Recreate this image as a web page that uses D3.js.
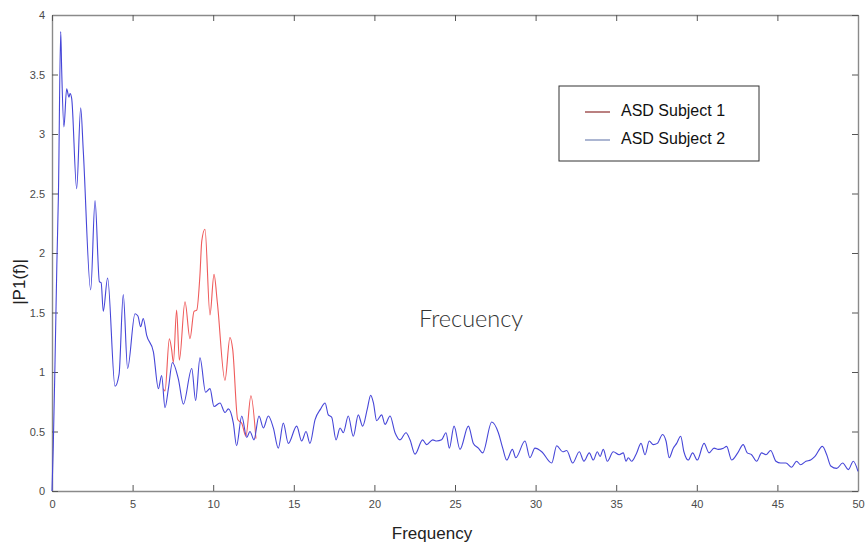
<!DOCTYPE html>
<html>
<head>
<meta charset="utf-8">
<title>ASD spectrum</title>
<style>
body {
    margin: 0px;
    overflow: hidden;
    background: #fff;
}
</style>
<script src="https://cdnjs.cloudflare.com/ajax/libs/d3/7.8.5/d3.min.js"></script>
</head>
<body>
<div id="chart"></div>
<script>

// frequency (Hz) and |P1(f)|
var blueFreq = [0, 0.08, 0.19, 0.3, 0.4, 0.54, 0.6, 0.74, 0.91, 1.05, 1.12, 1.22, 1.53, 1.78, 1.94, 2.4, 2.67, 2.94, 3.05, 3.18, 3.45,
    3.91, 4.16, 4.42, 4.69, 5.15, 5.33, 5.5, 5.66, 5.87, 6.29, 6.6, 6.8, 7.01, 7.22, 7.47, 7.84, 8.15, 8.67, 8.91, 9.18, 9.53,
    9.8, 10.05, 10.42, 10.73, 10.94, 11.25, 11.45, 11.77, 12.08, 12.28, 12.53, 12.84, 13.11, 13.42, 13.73, 14.04, 14.35, 14.66,
    15.18, 15.49, 15.76, 16.0, 16.32, 16.67, 16.94, 17.14, 17.35, 17.62, 17.87, 18.07, 18.38, 18.69, 19.0, 19.27, 19.56, 19.77,
    19.94, 20.14, 20.45, 20.66, 20.97, 21.28, 21.59, 21.96, 22.21, 22.52, 22.99, 23.24, 23.62, 23.86, 24.17, 24.44, 24.65, 24.94,
    25.31, 25.83, 26.14, 26.45, 26.72, 27.28, 27.69, 27.96, 28.21, 28.56, 28.77, 29.34, 29.65, 29.96, 30.38, 31.0, 31.31, 31.68,
    31.93, 32.3, 32.71, 33.0, 33.33, 33.58, 33.83, 34.0, 34.2, 34.45, 34.82, 35.19, 35.44, 35.61, 35.75, 35.96, 36.27, 36.54,
    36.79, 37.05, 37.3, 37.55, 37.88, 38.09, 38.29, 38.54, 38.75, 39.0, 39.2, 39.47, 39.74, 40.03, 40.45, 40.76, 41.07, 41.33,
    41.65, 41.85, 42.16, 42.54, 42.88, 43.13, 43.4, 43.71, 44.02, 44.29, 44.58, 44.91, 45.2, 45.53, 45.88, 46.19, 46.44, 46.77,
    47.06, 47.33, 47.79, 48.06, 48.31, 48.68, 49.05, 49.4, 49.71, 50];
var blueVal = [0, 0.38, 1.1, 1.9, 2.5, 3.86, 3.54, 3.06, 3.38, 3.31, 3.34, 3.3, 2.54, 3.22, 2.86, 1.69, 2.44, 1.76, 1.75, 1.51, 1.79,
    0.88, 0.98, 1.65, 1.03, 1.49, 1.47, 1.38, 1.45, 1.31, 1.17, 0.86, 0.97, 0.7, 0.86, 1.08, 0.94, 0.73, 1.03, 0.76, 1.12, 0.83,
    0.86, 0.71, 0.74, 0.66, 0.69, 0.57, 0.38, 0.63, 0.45, 0.5, 0.43, 0.63, 0.53, 0.63, 0.53, 0.36, 0.57, 0.4,
    0.545, 0.42, 0.5, 0.4, 0.6, 0.69, 0.74, 0.64, 0.62, 0.43, 0.53, 0.49, 0.63, 0.46, 0.64, 0.545, 0.69, 0.805,
    0.74, 0.59, 0.64, 0.56, 0.63, 0.49, 0.43, 0.49, 0.43, 0.31, 0.43, 0.39, 0.43, 0.42, 0.43, 0.49, 0.36, 0.545,
    0.35, 0.545, 0.4, 0.36, 0.32, 0.58, 0.49, 0.36, 0.26, 0.35, 0.28, 0.42, 0.28, 0.36, 0.33, 0.235, 0.38, 0.33,
    0.34, 0.235, 0.33, 0.25, 0.32, 0.26, 0.33, 0.29, 0.35, 0.25, 0.33, 0.305, 0.32, 0.25, 0.28, 0.25, 0.32, 0.4,
    0.305, 0.42, 0.39, 0.4, 0.475, 0.42, 0.28, 0.36, 0.4, 0.46, 0.33, 0.26, 0.32, 0.26, 0.4, 0.32, 0.36, 0.35,
    0.36, 0.375, 0.26, 0.32, 0.39, 0.32, 0.305, 0.25, 0.32, 0.305, 0.34, 0.25, 0.235, 0.235, 0.2, 0.25, 0.22, 0.25,
    0.26, 0.29, 0.375, 0.305, 0.21, 0.19, 0.235, 0.18, 0.25, 0.165];

var redFreq = [6.91, 7.01, 7.28, 7.42, 7.53, 7.73, 7.9, 8.25, 8.56, 8.81, 8.98, 9.18, 9.29, 9.49, 9.8, 10.05, 10.26,
    10.73, 11.04, 11.21, 11.52, 11.77, 12.03, 12.34, 12.65];
var redVal = [0.86, 0.84, 1.28, 1.19, 1.08, 1.52, 1.1, 1.59, 1.28, 1.51, 1.52, 1.82, 2.1, 2.2, 1.48, 1.82, 1.58,
    0.93, 1.29, 1.19, 0.6, 0.57, 0.46, 0.8, 0.44];

var xTicks = [0, 5, 10, 15, 20, 25, 30, 35, 40, 45, 50];
var yTicks = [0, 0.5, 1, 1.5, 2, 2.5, 3, 3.5, 4];
var seriesNames = ["ASD Subject 1", "ASD Subject 2"];

var width = 865, height = 544;
var padLeft = 52, padRight = 858, padTop = 15, padBottom = 491;

var svg = d3.select("#chart").append("svg")
    .attr("width", width)
    .attr("height", height)
    .style("font-family", "Liberation Sans, Arial, sans-serif");

var x = d3.scaleLinear().domain([0, 50]).range([padLeft, padRight]);
var y = d3.scaleLinear().domain([0, 4]).range([padBottom, padTop]);
var fmt = d3.format("~g");

function styleAxis(g) {
    g.select(".domain").attr("stroke", "#8a8a8a").attr("stroke-width", 1.4);
    g.selectAll(".tick line").attr("stroke", "#555").attr("stroke-width", 1);
    g.selectAll(".tick text").attr("fill", "#4a4a4a").style("font-size", "11px");
}

svg.append("g")
    .attr("transform", "translate(0," + padBottom + ")")
    .call(d3.axisBottom(x).tickValues(xTicks).tickFormat(fmt).tickSizeInner(-6).tickSizeOuter(0).tickPadding(9))
    .call(styleAxis);
svg.append("g")
    .attr("transform", "translate(" + padLeft + ",0)")
    .call(d3.axisLeft(y).tickValues(yTicks).tickFormat(fmt).tickSizeInner(-6).tickSizeOuter(0).tickPadding(7))
    .call(styleAxis);
svg.append("g")
    .attr("transform", "translate(0," + padTop + ")")
    .call(d3.axisTop(x).tickValues(xTicks).tickSizeInner(-6).tickSizeOuter(0).tickFormat(""))
    .call(styleAxis);
svg.append("g")
    .attr("transform", "translate(" + padRight + ",0)")
    .call(d3.axisRight(y).tickValues(yTicks).tickSizeInner(-6).tickSizeOuter(0).tickFormat(""))
    .call(styleAxis);

var line = d3.line()
    .x(function (d) { return x(d[0]); })
    .y(function (d) { return y(d[1]); })
    .curve(d3.curveMonotoneX);

var red = d3.zip(redFreq, redVal);
var blue = d3.zip(blueFreq, blueVal);

svg.append("path")
    .datum(red)
    .attr("d", line)
    .attr("fill", "none")
    .attr("stroke", "#ef5b5b")
    .attr("stroke-width", 1.1);

svg.append("path")
    .datum(blue)
    .attr("d", line)
    .attr("fill", "none")
    .attr("stroke", "#4646d8")
    .attr("stroke-width", 1.1);

// axis titles
svg.append("text")
    .attr("x", 432)
    .attr("y", 539)
    .attr("text-anchor", "middle")
    .attr("fill", "#222")
    .style("font-size", "17px")
    .text("Frequency");

svg.append("text")
    .attr("transform", "translate(25,282) rotate(-90)")
    .attr("text-anchor", "middle")
    .attr("fill", "#222")
    .style("font-size", "17px")
    .text("|P1(f)|");

svg.append("text")
    .attr("x", 419)
    .attr("y", 327)
    .attr("fill", "#333")
    .style("font-family", "Lato, sans-serif")
    .style("font-weight", 300)
    .style("font-size", "23.5px")
    .text("Frecuency");

// legend
var legend = svg.append("g");
legend.append("rect")
    .attr("x", 559).attr("y", 86)
    .attr("width", 200).attr("height", 75)
    .attr("fill", "#fff")
    .attr("stroke", "#333")
    .attr("stroke-width", 1);

var legendColors = ["#8b2a2a", "#7585b5"];
seriesNames.forEach(function (name, i) {
    var ly = 112 + i * 28;
    legend.append("line")
        .attr("x1", 585).attr("x2", 610)
        .attr("y1", ly).attr("y2", ly)
        .attr("stroke", legendColors[i])
        .attr("stroke-width", 1.2);
    legend.append("text")
        .attr("x", 621).attr("y", ly + 4)
        .attr("fill", "#111")
        .style("font-size", "16px")
        .text(name);
});

</script>
</body>
</html>
